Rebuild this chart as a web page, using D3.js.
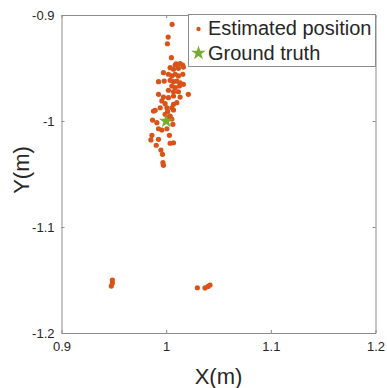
<!DOCTYPE html>
<html>
<head>
<meta charset="utf-8">
<script src="https://cdn.jsdelivr.net/npm/d3@7"></script>
<style>
  html, body { margin: 0; padding: 0; background: #fff; }
  svg { display: block; font-family: "Liberation Sans", Arial, sans-serif; }
</style>
</head>
<body>
<svg id="chart" width="387" height="388"></svg>
<script>
// Estimated positions (metres)
const estX = [
  1.0057, 1.0019, 1.0012, 1.0050, 1.0095, 1.0133, 1.0157,
  1.0038, 1.0086, 1.0165, 1.0070, 1.0117, 0.9974, 1.0022, 1.0054, 1.0086, 1.0117, 1.0159,
  0.9927, 0.9981, 1.0038, 1.0070, 1.0102, 1.0133, 1.0165, 1.0054, 1.0086, 1.0127,
  1.0022, 1.0070, 1.0117, 1.0212, 0.9927, 0.9974, 1.0022, 1.0070, 1.0133,
  0.9959, 0.9990, 1.0070, 1.0102, 0.9943, 1.0007, 1.0054, 0.9895,
  0.9879, 1.0014, 1.0070, 0.9990, 1.0038, 0.9870, 0.9911, 1.0064,
  0.9927, 0.9959, 1.0007, 1.0031, 0.9864, 0.9854, 0.9927, 1.0038, 1.0070,
  0.9905, 0.9950, 0.9965, 0.9969, 0.9974, 1.0022, 1.0054,
  0.9486, 0.9486, 0.9476,
  1.0298, 1.0371, 1.0400, 1.0419
];
const estY = [
  -0.9088, -0.9208, -0.9271, -0.9403, -0.9462, -0.9458, -0.9472,
  -0.9497, -0.9472, -0.9491, -0.9512, -0.9503, -0.9544, -0.9559, -0.9575, -0.9559, -0.9575, -0.9559,
  -0.9629, -0.9623, -0.9616, -0.9629, -0.9623, -0.9639, -0.9654, -0.9670, -0.9686, -0.9670,
  -0.9710, -0.9724, -0.9724, -0.9748, -0.9748, -0.9774, -0.9780, -0.9764, -0.9774,
  -0.9811, -0.9837, -0.9842, -0.9827, -0.9875, -0.9875, -0.9875, -0.9899,
  -0.9906, -0.9910, -0.9896, -0.9937, -0.9953, -0.9991, -1.0016, -1.0031,
  -1.0073, -1.0085, -1.0073, -1.0135, -1.0135, -1.0179, -1.0173, -1.0210, -1.0205,
  -1.0229, -1.0274, -1.0314, -1.0393, -1.0418, -0.9969, -0.9981,
  -1.1500, -1.1528, -1.1557,
  -1.1573, -1.1575, -1.1561, -1.1547
];
// Ground truth position
const truthX = [1.0];
const truthY = [-1.0];

const xTicks = [0.9, 1.0, 1.1, 1.2];
const yTicks = [-1.2, -1.1, -1.0, -0.9];
const xTickLabels = ["0.9", "1", "1.1", "1.2"];
const yTickLabels = ["-1.2", "-1.1", "-1", "-0.9"];
const legendLabels = ["Estimated position", "Ground truth"];

const estColor = "#D95319";
const truthColor = "#77AC30";
const axisColor = "#8c8c8c";
const textColor = "#262626";

const svg = d3.select("#chart");
const plot = { left: 61.5, right: 375.5, top: 15, bottom: 333 };

const x = d3.scaleLinear().domain([0.9, 1.2]).range([plot.left, plot.right]);
const y = d3.scaleLinear().domain([-1.2, -0.9]).range([plot.bottom, plot.top]);

// Axes with inward ticks on all four sides
const tickLen = 3;
const bottomAxis = d3.axisBottom(x).tickValues(xTicks).tickSizeInner(-tickLen).tickSizeOuter(0)
  .tickFormat((d, i) => xTickLabels[i]).tickPadding(9);
const leftAxis = d3.axisLeft(y).tickValues(yTicks).tickSizeInner(-tickLen).tickSizeOuter(0)
  .tickFormat((d, i) => yTickLabels[i]).tickPadding(7);
const topAxis = d3.axisTop(x).tickValues(xTicks).tickSizeInner(-tickLen).tickSizeOuter(0).tickFormat("");
const rightAxis = d3.axisRight(y).tickValues(yTicks).tickSizeInner(-tickLen).tickSizeOuter(0).tickFormat("");

function styleAxis(g) {
  g.select(".domain").attr("stroke", axisColor);
  g.selectAll(".tick line").attr("stroke", axisColor);
  g.selectAll(".tick text").attr("fill", textColor).style("font-size", "13px")
    .style("font-family", "'Liberation Sans', Arial, sans-serif");
}

svg.append("g").attr("transform", `translate(0,${plot.bottom})`).call(bottomAxis).call(styleAxis);
svg.append("g").attr("transform", `translate(${plot.left},0)`).call(leftAxis).call(styleAxis);
svg.append("g").attr("transform", `translate(0,${plot.top})`).call(topAxis).call(styleAxis);
svg.append("g").attr("transform", `translate(${plot.right},0)`).call(rightAxis).call(styleAxis);

// Axis titles
svg.append("text")
  .attr("x", (plot.left + plot.right) / 2).attr("y", 384)
  .attr("text-anchor", "middle").attr("fill", textColor)
  .style("font-size", "22px").text("X(m)");
svg.append("text")
  .attr("transform", `translate(29,${(plot.top + plot.bottom) / 2 - 4}) rotate(-90)`)
  .attr("text-anchor", "middle").attr("fill", textColor)
  .style("font-size", "22px").text("Y(m)");

// Estimated positions
const pts = estX.map((v, i) => ({ x: v, y: estY[i] }));
svg.append("g").selectAll("circle").data(pts).join("circle")
  .attr("cx", d => x(d.x)).attr("cy", d => y(d.y)).attr("r", 2.6)
  .attr("fill", estColor);

// Ground truth
const star = d3.symbol().type(d3.symbolStar).size(65);
svg.append("g").selectAll("path").data(truthX.map((v, i) => ({ x: v, y: truthY[i] }))).join("path")
  .attr("d", star)
  .attr("transform", d => `translate(${x(d.x)},${y(d.y)})`)
  .attr("fill", truthColor);

// Legend
const lg = svg.append("g");
lg.append("rect")
  .attr("x", 188.5).attr("y", 14.5).attr("width", 187).attr("height", 52)
  .attr("fill", "#fff").attr("stroke", axisColor);
lg.append("circle").attr("cx", 198.5).attr("cy", 29).attr("r", 2.2).attr("fill", estColor);
lg.append("path").attr("d", star).attr("transform", "translate(198.5,53)").attr("fill", truthColor);
lg.selectAll("text.lab").data(legendLabels).join("text")
  .attr("class", "lab")
  .attr("x", 208).attr("y", (d, i) => 35 + i * 25)
  .attr("fill", textColor).style("font-size", "20px")
  .text(d => d);
</script>
</body>
</html>
